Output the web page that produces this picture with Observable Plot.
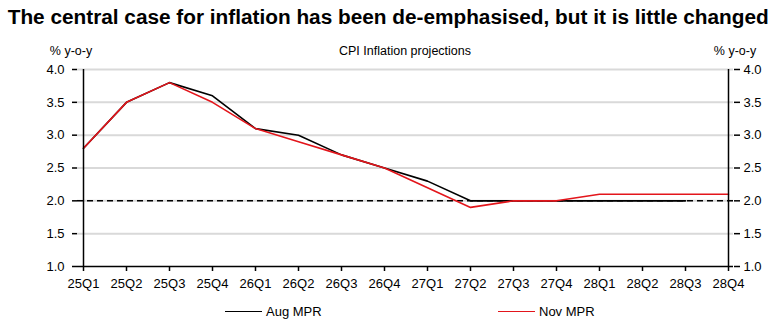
<!DOCTYPE html>
<html><head><meta charset="utf-8">
<script src="https://cdn.jsdelivr.net/npm/d3@7"></script>
<script src="https://cdn.jsdelivr.net/npm/@observablehq/plot@0.6"></script>
<style>
html,body{margin:0;padding:0;background:#fff;}
body{position:relative;width:777px;height:321px;overflow:hidden;font-family:"Liberation Sans",Arial,sans-serif;color:#000;}
.abs{position:absolute;white-space:nowrap;line-height:1;z-index:2;}
#title{left:0;top:7px;width:777px;text-align:center;font-weight:bold;font-size:20px;}
#title span{display:inline-block;transform-origin:center center;}
#chart{position:absolute;left:0;top:38px;z-index:1;}
.lab{font-size:12.5px;transform:translateX(-50%);}
.leg{top:305px;font-size:13px;display:flex;align-items:center;}
.leg i{display:inline-block;width:37px;height:0;border-top:1.6px solid;margin-right:4px;}
</style></head>
<body>
<div id="title" class="abs"><span id="titleText"></span></div>
<div id="chart"></div>
<div id="ylabL" class="abs lab" style="left:71px;top:45px;"></div>
<div id="sub" class="abs lab" style="left:405px;top:45px;"></div>
<div id="ylabR" class="abs lab" style="left:735px;top:45px;"></div>
<div id="leg0" class="abs leg" style="left:225px;"></div>
<div id="leg1" class="abs leg" style="left:498px;"></div>
<script>
const titleText = "The central case for inflation has been de-emphasised, but it is little changed";
const subtitleText = "CPI Inflation projections";
const yUnitLabel = "% y-o-y";
const quarters = ["25Q1","25Q2","25Q3","25Q4","26Q1","26Q2","26Q3","26Q4","27Q1","27Q2","27Q3","27Q4","28Q1","28Q2","28Q3","28Q4"];
const augMPR = [2.8,3.5,3.8,3.6,3.1,3.0,2.7,2.5,2.3,2.0,2.0,2.0,2.0,2.0,2.0];
const novMPR = [2.8,3.5,3.8,3.5,3.1,2.9,2.7,2.5,2.2,1.9,2.0,2.0,2.1,2.1,2.1,2.1];
const yTicks = [1.0,1.5,2.0,2.5,3.0,3.5,4.0];
const targetRate = 2.0;
const seriesNames = ["Aug MPR","Nov MPR"];
const seriesColors = ["#000000","#e3151b"];

const FONT = '"Liberation Sans",Arial,sans-serif';

document.getElementById("titleText").textContent = titleText;
document.getElementById("sub").textContent = subtitleText;
document.getElementById("ylabL").textContent = yUnitLabel;
document.getElementById("ylabR").textContent = yUnitLabel;
[0,1].forEach(i => {
  const el = document.getElementById("leg"+i);
  const ln = document.createElement("i"); ln.style.borderTopColor = seriesColors[i];
  el.appendChild(ln);
  el.appendChild(document.createTextNode(seriesNames[i]));
});

// fit title width
const ts = document.getElementById("titleText");
const w = ts.getBoundingClientRect().width;
ts.style.transform = `scaleX(${761 / w})`;

const aug = augMPR.map((v, i) => ({q: quarters[i], v}));
const nov = novMPR.map((v, i) => ({q: quarters[i], v}));

const fmt = d => d.toFixed(1);
const plot = Plot.plot({
  width: 777, height: 262,
  marginLeft: 77, marginRight: 44, marginTop: 31, marginBottom: 34,
  style: {fontFamily: FONT, fontSize: "13px", color: "#000", background: "transparent", overflow: "visible"},
  x: {type: "point", domain: quarters, padding: 0},
  y: {domain: [yTicks[0], yTicks[yTicks.length - 1]]},
  marks: [
    Plot.ruleY(yTicks.slice(1), {stroke: "#d9d9d9", strokeWidth: 2}),
    Plot.ruleY([targetRate], {stroke: "#000", strokeWidth: 1.5, strokeDasharray: "6,4"}),
    Plot.line(aug, {x: "q", y: "v", stroke: seriesColors[0], strokeWidth: 1.6}),
    Plot.line(nov, {x: "q", y: "v", stroke: seriesColors[1], strokeWidth: 1.6}),
    Plot.ruleX([quarters[0], quarters[quarters.length - 1]], {stroke: "#000", strokeWidth: 1.5}),
    Plot.ruleY([yTicks[0]], {stroke: "#000", strokeWidth: 1.5}),
    Plot.axisY(yTicks, {anchor: "left", tickSize: 5, tickPadding: 8, tickFormat: fmt, label: null, strokeWidth: 1.5}),
    Plot.axisY(yTicks, {anchor: "right", tickSize: 6, tickPadding: 4, tickFormat: fmt, label: null, strokeWidth: 1.5}),
    Plot.axisX({tickSize: 5, tickPadding: 7, label: null, strokeWidth: 1.5})
  ]
});
document.getElementById("chart").appendChild(plot);
</script>
</body></html>
